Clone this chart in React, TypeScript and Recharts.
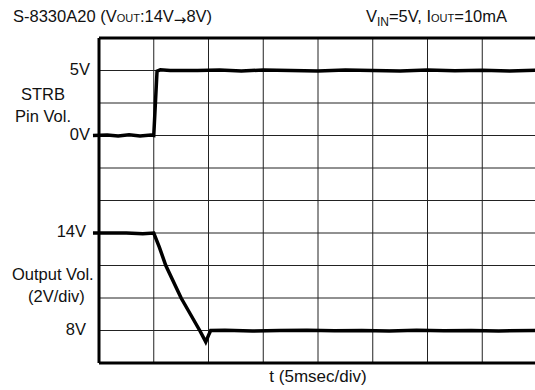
import React from 'react';
import { LineChart, Line, XAxis, YAxis, ReferenceLine } from 'recharts';

// STRB pin trace (time in divisions, volts)
const strbTime = [-0.11, 0.15, 0.35, 0.55, 0.75, 0.95, 1.0, 1.06, 1.12, 1.3, 1.8, 2.2, 2.6, 3.0, 3.5, 4.0, 4.5, 5.0, 5.5, 6.0, 6.5, 7.0, 7.5, 8.0];
const strbVolts = [0, 0.04, -0.04, 0.05, -0.03, 0.04, 0, 4.95, 5.05, 5.0, 5.0, 5.04, 4.97, 5.03, 5.0, 4.97, 5.04, 5.0, 4.96, 5.03, 4.98, 5.02, 4.96, 5.02];

// output voltage trace
const outTime = [-0.11, 0.5, 0.8, 1.0, 1.1, 1.22, 1.5, 1.67, 1.84, 1.95, 2.0, 2.04, 2.3, 2.8, 3.3, 3.8, 4.3, 4.8, 5.3, 5.8, 6.3, 6.8, 7.3, 8.0];
const outVolts = [14, 14, 13.95, 14, 13.15, 12, 10, 9.0, 8.0, 7.3, 7.7, 8.0, 8.02, 7.97, 8.0, 8.02, 7.98, 8.0, 7.97, 8.02, 7.98, 8.0, 7.97, 8.0];

// grid divisions
const xDivs = [1, 2, 3, 4, 5, 6, 7];
const yDivs = [1, 2, 3, 4, 5, 6, 7, 8, 9];

// y tick labels (division -> text)
const yTicks = [1, 4, 7, 9];
const yTickText: Record<number, string> = { 1: '8V', 4: '14V', 7: '0V', 9: '5V' };
const yTickRight: Record<number, number> = { 1: 86, 4: 86, 7: 90, 9: 90 };

// STRB: 2.5V/div with 0V on div 7, output: 2V/div with 8V on div 1
const strbData = strbTime.map((t, i) => ({ t, v: 7 + strbVolts[i] / 2.5 }));
const outData = outTime.map((t, i) => ({ t, v: 1 + (outVolts[i] - 8) / 2 }));

const font = '"Liberation Sans", Arial, sans-serif';
const fs = 16.5;
const small: React.CSSProperties = { fontSize: 11 };

const YTick = (props: any) => {
  const { y, payload } = props;
  return (
    <text x={yTickRight[payload.value]} y={y} dy={4} textAnchor="end" fontSize={fs} fill="#111" fontFamily={font}>
      {yTickText[payload.value]}
    </text>
  );
};

export default function App() {
  return (
    <div style={{ position: 'absolute', left: 0, top: 0, width: 535, height: 390, overflow: 'hidden', background: '#fff', fontFamily: font, color: '#111' }}>
      <div style={{ position: 'absolute', left: 13, top: 7, fontSize: fs, whiteSpace: 'nowrap' }}>
        S-8330A20 (V<span style={small}>OUT</span>:14V<span style={{ fontSize: 15, fontFamily: '"DejaVu Sans", sans-serif', position: 'relative', top: 3 }}>→</span>8V)
      </div>
      <div style={{ position: 'absolute', right: 28, top: 7, fontSize: fs, whiteSpace: 'nowrap' }}>
        V<span style={{ fontSize: 12, position: 'relative', top: 4 }}>IN</span>=5V, I<span style={small}>OUT</span>=10mA
      </div>
      <LineChart width={560} height={390} margin={{ top: 38, right: 23, bottom: 27, left: 28.05 }}>
        <XAxis type="number" dataKey="t" domain={[-0.2, 8]} hide allowDataOverflow />
        <YAxis type="number" domain={[0, 10]} width={60} ticks={yTicks} tick={<YTick />} axisLine={false} tickLine={false} allowDataOverflow />
        {xDivs.map((d) => (
          <ReferenceLine key={'vx' + d} segment={[{ x: d, y: 0 }, { x: d, y: 10 }]} stroke="#222" strokeWidth={1} />
        ))}
        {yDivs.map((d) => (
          <ReferenceLine key={'hy' + d} segment={[{ x: 0, y: d }, { x: 8, y: d }]} stroke="#222" strokeWidth={1} />
        ))}
        <ReferenceLine segment={[{ x: 0, y: 0 }, { x: 0, y: 10 }]} stroke="#000" strokeWidth={3} />
        <ReferenceLine segment={[{ x: 0, y: 0 }, { x: 8, y: 0 }]} stroke="#000" strokeWidth={3} />
        <ReferenceLine segment={[{ x: 0, y: 10 }, { x: 8, y: 10 }]} stroke="#000" strokeWidth={3} />
        <Line data={strbData} dataKey="v" type="linear" stroke="#000" strokeWidth={3.5} dot={false} isAnimationActive={false} />
        <Line data={outData} dataKey="v" type="linear" stroke="#000" strokeWidth={3.5} dot={false} isAnimationActive={false} />
      </LineChart>
      <div style={{ position: 'absolute', left: 0, width: 86, top: 83, fontSize: fs, textAlign: 'center', lineHeight: '22px' }}>
        STRB<br />Pin Vol.
      </div>
      <div style={{ position: 'absolute', left: 12, top: 265, fontSize: fs, whiteSpace: 'nowrap' }}>Output Vol.</div>
      <div style={{ position: 'absolute', left: 28, top: 287, fontSize: fs, whiteSpace: 'nowrap' }}>(2V/div)</div>
      <div style={{ position: 'absolute', left: 99, width: 438, top: 367, fontSize: 17, textAlign: 'center' }}>t (5msec/div)</div>
    </div>
  );
}
